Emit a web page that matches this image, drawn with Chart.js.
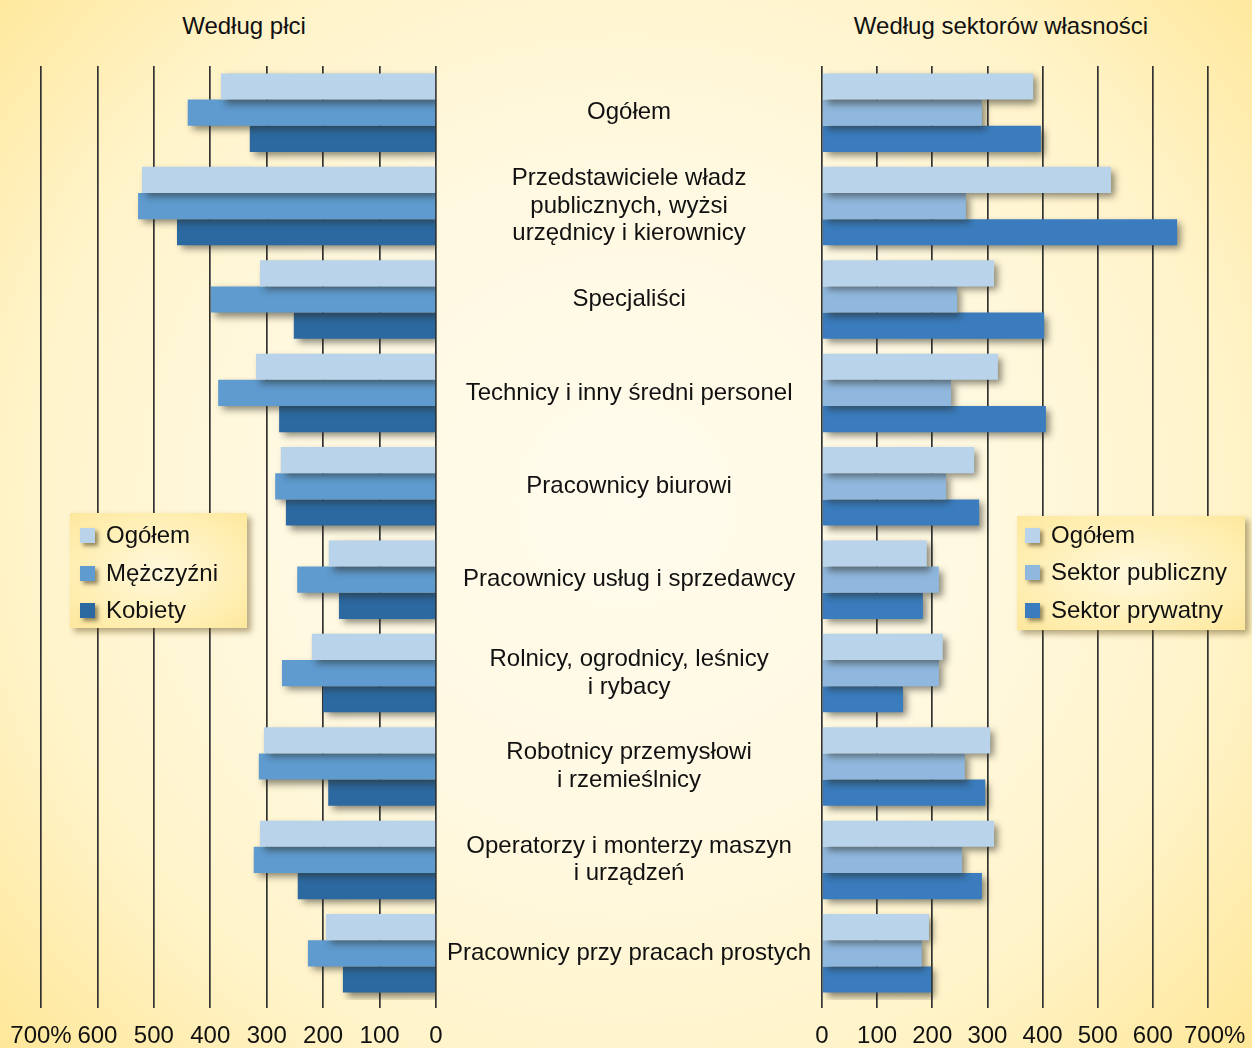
<!DOCTYPE html>
<html>
<head>
<meta charset="utf-8">
<script src="https://cdn.jsdelivr.net/npm/chart.js@4.4.1/dist/chart.umd.min.js"></script>
<style>
  html, body { margin: 0; padding: 0; }
  body { width: 1252px; height: 1048px; overflow: hidden; font-family: "Liberation Sans", Arial, sans-serif; }
  #bg { position: absolute; left: 0; top: 0; width: 1252px; height: 1048px;
        background: radial-gradient(ellipse 68% 78% at 50% 48%, #fffbec 0%, #fff9e2 40%, #fff3c8 72%, #ffe797 100%); }
  .cv { position: absolute; top: 0; }
  .title { position: absolute; top: 12px; font-size: 24px; line-height: 28px; color: #111; transform: translateX(-50%); white-space: nowrap; }
  .legend { position: absolute; background: radial-gradient(ellipse at 50% 50%, #fff8dc 0%, #ffeeb0 70%, #fde79c 100%);
            box-shadow: 4px 4px 6px rgba(90,70,20,0.45); }
  .legend .item { position: absolute; left: 0; font-size: 24px; color: #111; white-space: nowrap; line-height: 28px; }
  .legend .sw { position: absolute; width: 15px; height: 15px; box-shadow: 3px 3px 4px rgba(60,50,20,0.55); }
</style>
</head>
<body>
<div id="bg"></div>
<div class="title" style="left:244px">Według płci</div>
<div class="title" style="left:1001px">Według sektorów własności</div>
<canvas id="left" class="cv" style="left:0px" width="822" height="1048"></canvas>
<canvas id="right" class="cv" style="left:800px" width="452" height="1048"></canvas>
<div id="legL" class="legend" style="left:70px; top:513px; width:177px; height:115px;"></div>
<div id="legR" class="legend" style="left:1017px; top:516px; width:228px; height:114px;"></div>
<script>
const categories = [
  "Ogółem",
  ["Przedstawiciele władz", "publicznych, wyżsi", "urzędnicy i kierownicy"],
  "Specjaliści",
  "Technicy i inny średni personel",
  "Pracownicy biurowi",
  "Pracownicy usług i sprzedawcy",
  ["Rolnicy, ogrodnicy, leśnicy", "i rybacy"],
  ["Robotnicy przemysłowi", "i rzemieślnicy"],
  ["Operatorzy i monterzy maszyn", "i urządzeń"],
  "Pracownicy przy pracach prostych"
];
const tickValues = [0, 100, 200, 300, 400, 500, 600, 700];
const genderSeries = ["Ogółem", "Mężczyźni", "Kobiety"];
const sectorSeries = ["Ogółem", "Sektor publiczny", "Sektor prywatny"];

const sexTotal   = [381, 521, 312, 319, 275, 190, 220, 305, 312, 195];
const sexMen     = [440, 528, 399, 386, 285, 246, 273, 314, 323, 227];
const sexWomen   = [330, 459, 252, 278, 266, 172, 200, 191, 245, 165];

const secTotal   = [383, 524, 312, 319, 276, 190, 219, 305, 312, 194];
const secPublic  = [290, 261, 245, 234, 225, 212, 212, 259, 254, 181];
const secPrivate = [397, 644, 403, 406, 285, 183, 147, 296, 290, 198];

const colorsL = ["#b8d3ea", "#5f9bcf", "#2c69a0"];
const colorsR = ["#b8d3ea", "#90b8de", "#3a7cbd"];

const shadowPlugin = {
  id: 'barShadow',
  beforeDatasetsDraw(chart) {
    const c = chart.ctx;
    c.save();
    c.shadowColor = 'rgba(40,40,30,0.55)';
    c.shadowBlur = 7;
    c.shadowOffsetX = 4;
    c.shadowOffsetY = 4;
  },
  afterDatasetsDraw(chart) { chart.ctx.restore(); }
};

const tickFont = { family: "'Liberation Sans', Arial, sans-serif", size: 24 };

function xScale(reverse) {
  return {
    type: 'linear', min: 0, max: 700, reverse: reverse,
    afterBuildTicks(s) { s.ticks = tickValues.map(v => ({ value: v })); },
    afterFit(s) { s.paddingLeft = 0; s.paddingRight = 0; s.height = 48; },
    grid: { color: '#333', lineWidth: 1.7, tickLength: 8, tickColor: '#333', drawOnChartArea: true },
    border: { display: false },
    ticks: { color: '#111', font: tickFont, padding: 14, maxRotation: 0, autoSkip: false,
             callback: v => v === 700 ? (reverse ? '700%' : '\u2007700%') : String(v) }
  };
}

function makeDatasets(names, colors, arrays) {
  return names.map((n, i) => ({
    label: n, data: arrays[i], backgroundColor: colors[i], borderWidth: 0,
    categoryPercentage: 0.84, barPercentage: 1.0
  }));
}

new Chart(document.getElementById('left'), {
  type: 'bar',
  data: { labels: categories, datasets: makeDatasets(genderSeries, colorsL, [sexTotal, sexMen, sexWomen]) },
  options: {
    indexAxis: 'y', responsive: false, animation: false,
    layout: { padding: { left: 41, right: 0, top: 66, bottom: 0 } },
    plugins: { legend: { display: false }, tooltip: { enabled: false } },
    scales: {
      x: xScale(true),
      y: {
        position: 'right',
        afterFit(s) { s.width = 386; },
        grid: { display: false, drawTicks: false },
        border: { display: false },
        ticks: { color: '#111', font: { ...tickFont, lineHeight: 1.15 }, crossAlign: 'center', padding: 11, autoSkip: false }
      }
    }
  },
  plugins: [shadowPlugin]
});

new Chart(document.getElementById('right'), {
  type: 'bar',
  data: { labels: categories, datasets: makeDatasets(sectorSeries, colorsR, [secTotal, secPublic, secPrivate]) },
  options: {
    indexAxis: 'y', responsive: false, animation: false,
    layout: { padding: { left: 22, right: 44, top: 66, bottom: 0 } },
    plugins: { legend: { display: false }, tooltip: { enabled: false } },
    scales: {
      x: xScale(false),
      y: { display: false }
    }
  },
  plugins: [shadowPlugin]
});

function buildLegend(id, names, colors, swX, txtX, ys) {
  const el = document.getElementById(id);
  names.forEach((n, i) => {
    const sw = document.createElement('div');
    sw.className = 'sw';
    sw.style.left = swX + 'px'; sw.style.top = (ys[i] - 7) + 'px';
    sw.style.background = colors[i];
    el.appendChild(sw);
    const t = document.createElement('div');
    t.className = 'item';
    t.style.left = txtX + 'px'; t.style.top = (ys[i] - 14) + 'px';
    t.textContent = n;
    el.appendChild(t);
  });
}
buildLegend('legL', genderSeries, colorsL, 10, 36, [22, 60, 97]);
buildLegend('legR', sectorSeries, colorsR, 8, 34, [19, 56, 94]);
</script>
</body>
</html>
